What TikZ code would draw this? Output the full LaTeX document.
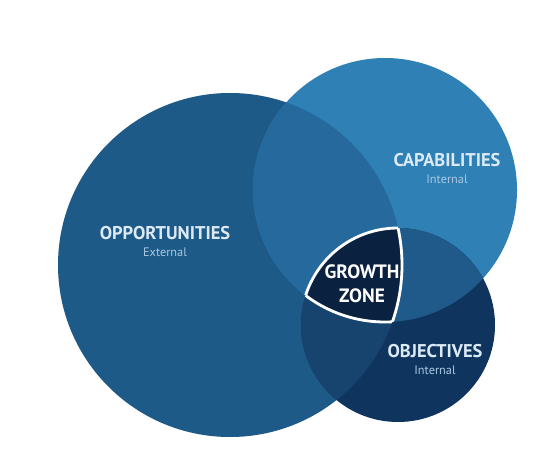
\documentclass[tikz,border=0pt]{standalone}
\usepackage{fontspec}
\setmainfont{PT Sans}
\usetikzlibrary{positioning}
\definecolor{oppblue}{HTML}{1E5A88}
\definecolor{capblue}{HTML}{2E80B5}
\definecolor{objblue}{HTML}{0F355F}
\definecolor{oppcap}{HTML}{26699D}
\definecolor{capobj}{HTML}{1F5A8A}
\definecolor{oppobj}{HTML}{17436F}
\definecolor{zonenavy}{HTML}{0B2140}
\definecolor{labelwhite}{HTML}{DCEAF5}
\definecolor{sublabel}{HTML}{A9C8E2}
\begin{document}
\begin{tikzpicture}[x=0.02cm, y=0.02cm]
    % Define styles
    \tikzstyle{title} = [font=\bfseries\fontsize{10.5}{12}\selectfont, text=labelwhite, inner sep=0pt]
    \tikzstyle{sub} = [font=\fontsize{7}{8}\selectfont, text=sublabel, inner sep=0pt]
    \tikzstyle{zone} = [font=\bfseries\fontsize{11}{13}\selectfont, text=white, inner sep=0pt]
    \tikzstyle{rim} = [draw=white, line width=1.6pt]

    \fill[white] (0,0) rectangle (550,453);
    \useasboundingbox (0,0) rectangle (550,453);

    % Circle centres
    \coordinate (opp) at (230,188);
    \coordinate (cap) at (385,263);
    \coordinate (obj) at (398,128);

    % Circles
    \fill[oppblue] (opp) circle [radius=172];
    \fill[capblue] (cap) circle [radius=132];
    \fill[objblue] (obj) circle [radius=97];

    % Overlaps
    \begin{scope}
        \clip (opp) circle [radius=172];
        \fill[oppcap] (cap) circle [radius=132];
        \fill[oppobj] (obj) circle [radius=97];
    \end{scope}
    \begin{scope}
        \clip (cap) circle [radius=132];
        \fill[capobj] (obj) circle [radius=97];
    \end{scope}

    % Growth zone
    \begin{scope}
        \clip (opp) circle [radius=172];
        \clip (cap) circle [radius=132];
        \fill[zonenavy] (obj) circle [radius=97];
        \path[rim] (obj) circle [radius=97];
    \end{scope}
    \begin{scope}
        \clip (opp) circle [radius=172];
        \clip (obj) circle [radius=97];
        \path[rim] (cap) circle [radius=132];
    \end{scope}
    \begin{scope}
        \clip (cap) circle [radius=132];
        \clip (obj) circle [radius=97];
        \path[rim] (opp) circle [radius=172];
    \end{scope}

    % Labels
    \node [title] (opptitle) at (165,220) {OPPORTUNITIES};
    \node [sub, below=4pt of opptitle] (oppsub) {External};
    \node [title] (captitle) at (447,293) {CAPABILITIES};
    \node [sub, below=4pt of captitle] (capsub) {Internal};
    \node [title] (objtitle) at (435,102) {OBJECTIVES};
    \node [sub, below=4pt of objtitle] (objsub) {Internal};
    \node [zone] (growth) at (362,181) {GROWTH};
    \node [zone, below=5pt of growth] (zonetext) {ZONE};
\end{tikzpicture}
\end{document}
